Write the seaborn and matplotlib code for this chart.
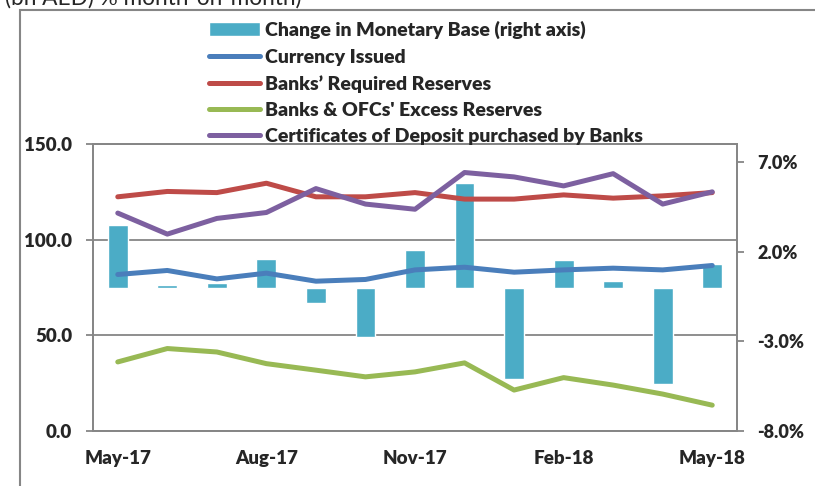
"""
Monetary base components with month-on-month change
"""
import pandas as pd
import seaborn as sns
import matplotlib.pyplot as plt
from matplotlib.patches import Rectangle

months = ['May-17', 'Jun-17', 'Jul-17', 'Aug-17', 'Sep-17', 'Oct-17', 'Nov-17',
          'Dec-17', 'Jan-18', 'Feb-18', 'Mar-18', 'Apr-18', 'May-18']
shown_labels = ['May-17', 'Aug-17', 'Nov-17', 'Feb-18', 'May-18']

# % change, right axis
monetary_base_change = [3.5, 0.12, 0.25, 1.6, -0.85, -2.75, 2.1, 5.85, -5.1, 1.55, 0.35, -5.4, 1.3]
# bn AED, left axis
currency_issued = [81.8, 83.9, 79.5, 82.5, 78.3, 79.2, 84.2, 85.6, 83.0, 84.2, 85.1, 84.2, 86.5]
required_reserves = [122.4, 125.2, 124.6, 129.5, 122.4, 122.4, 124.6, 121.2, 121.2, 123.4, 121.7, 122.9, 124.6]
excess_reserves = [36.1, 43.1, 41.3, 35.2, 31.8, 28.3, 30.9, 35.6, 21.4, 27.9, 24.0, 19.3, 13.5]
certificates_of_deposit = [113.9, 102.9, 111.1, 114.2, 126.7, 118.6, 115.9, 135.1, 132.8, 128.1, 134.5, 118.6, 125.0]

df = pd.DataFrame({
    'month': months,
    'pos': range(len(months)),
    'mb_change': monetary_base_change,
    'currency': currency_issued,
    'required': required_reserves,
    'excess': excess_reserves,
    'cd': certificates_of_deposit,
})

sns.set_style('white')
plt.rcParams['font.family'] = ['Lato', 'DejaVu Sans']
plt.rcParams['font.weight'] = 'heavy'

gray = '#868686'
fig = plt.figure(figsize=(8.15, 4.86), dpi=100)

# outer chart frame
fig.add_artist(Rectangle((20 / 815, -0.1), 1.2, 1.1 - 10 / 486, transform=fig.transFigure,
                         facecolor='none', edgecolor=gray, lw=1.5))
# heading sits partly above the image edge, as in the source
fig.text(5 / 815, 1 - 5 / 486, '(bn AED) % month-on-month)', fontsize=16.3,
         fontweight='normal', va='baseline', ha='left')

ax = fig.add_axes([93 / 815, 55 / 486, 644 / 815, 287 / 486])
ax.set_ylim(0, 150)
ax.set_yticks([0, 50, 100, 150], [f'{v:.1f}' for v in [0, 50, 100, 150]])
ax.yaxis.grid(True, color=gray, lw=1.3)
ax.set_axisbelow(True)

# bars on the right axis
ax2 = ax.twinx()
sns.barplot(data=df, x='month', y='mb_change', ax=ax2, color='#4BACC6', saturation=1,
            width=0.4, errorbar=None, label='Change in Monetary Base (right axis)')
ax2.set_ylim(-8, 8)
ax2.set_yticks([-8, -3, 2, 7], [f'{v:.1f}%' for v in [-8, -3, 2, 7]])
ax2.set_ylabel('')
if ax2.get_legend() is not None:
    ax2.get_legend().remove()

# lines on the left scale, drawn above the bars
ax3 = ax.twinx()
series = [
    ('currency', 'Currency Issued', '#4A7EBB'),
    ('required', 'Banks\u2019 Required Reserves', '#BE4B48'),
    ('excess', "Banks & OFCs' Excess Reserves", '#98B954'),
    ('cd', 'Certificates of Deposit purchased by Banks', '#7D60A0'),
]
for col, name, color in series:
    sns.lineplot(data=df, x='pos', y=col, ax=ax3, color=color, lw=3.6,
                 label=name, solid_capstyle='round')
ax3.set_ylim(0, 150)
ax3.axis('off')
if ax3.get_legend() is not None:
    ax3.get_legend().remove()

ax.set_xlim(-0.5, len(months) - 0.5)
ax.set_xticks([-0.5, 2.5, 5.5, 8.5, 11.5], [''] * 5)
ax.set_xticks([0, 3, 6, 9, 12], shown_labels, minor=True)
ax.set_xlabel('')
ax.tick_params(axis='x', which='major', length=5, width=1.3, color=gray, direction='out')
ax.tick_params(axis='x', which='minor', length=0, pad=14, labelsize=13.5)
ax.tick_params(axis='y', length=5, width=1.3, color=gray, direction='out', labelsize=13.5, pad=10)
ax2.tick_params(axis='y', length=5, width=1.3, color=gray, direction='out', labelsize=13, pad=9.4)

for a in (ax, ax2):
    for sp in a.spines.values():
        sp.set_color(gray)
        sp.set_linewidth(1.3)

h2, l2 = ax2.get_legend_handles_labels()
h3, l3 = ax3.get_legend_handles_labels()
leg = fig.legend(h2 + h3, l2 + l3, loc='upper left', bbox_to_anchor=(209 / 815, 1 - 21 / 486),
                 frameon=False, handlelength=2.6, handletextpad=0.3, labelspacing=0.48,
                 borderaxespad=0, borderpad=0, prop={'weight': 'heavy', 'size': 14})

fig.savefig('out.png', dpi=100)
